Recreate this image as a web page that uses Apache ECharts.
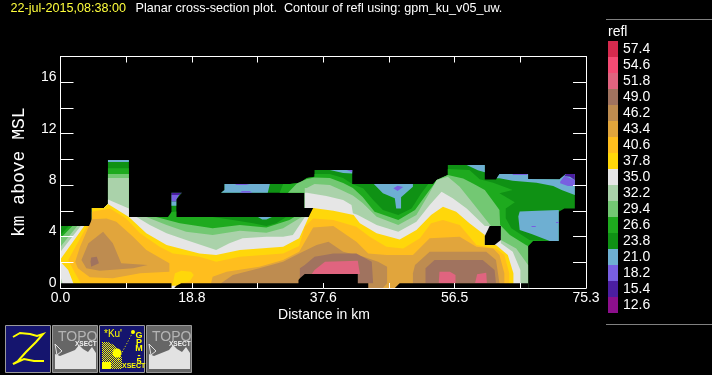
<!DOCTYPE html>
<html><head><meta charset="utf-8">
<style>html,body{margin:0;padding:0;background:#000}#c{width:712px;height:375px}</style>
<script src="https://cdn.jsdelivr.net/npm/echarts@6/dist/echarts.min.js"></script>
</head><body><div id="c"></div>
<script>
// Colour scale
const levels = [57.4,54.6,51.8,49.0,46.2,43.4,40.6,37.8,35.0,32.2,29.4,26.6,23.8,21.0,18.2,15.4,12.6];
const colors = ['#d62a4e','#f54b74','#e0647f','#a0735f','#be8c50','#e1a53c','#ffbe1e','#ffd70a','#e6e6e6','#aad2aa','#73c873','#1eaa1e','#0f9114','#6eafd2','#785fe1','#4b1ea0','#8c0f8c'];
const xTicks = ['0.0','','18.8','','37.6','','56.5','','75.3'];
const yTicks = ['0','','4','','8','','12','','16',''];

// Contour regions, [distance km, height km]
const outline = [[0,0.36],[0,4.82],[4.2,4.82],[4.5,5.03],[4.5,6.22],[6.2,6.22],[6.8,6.53],[6.8,9.95],[9.8,9.95],[9.8,5.52],[15.9,5.52],[15.9,7.41],[17.4,7.41],[16.6,6.89],[16.6,5.52],[36.4,5.52],[36.4,6.22],[35,6.22],[35,7.41],[23,7.41],[23.5,7.62],[23.5,8.08],[32.9,8.08],[34.3,8.18],[35.3,8.55],[36.4,8.65],[36.4,9.17],[41.8,9.17],[41.8,8.08],[53.4,8.08],[53.9,8.39],[55.5,8.78],[55.5,9.56],[60.8,9.56],[60.8,8.44],[62.4,8.44],[62.9,8.86],[67,8.86],[67,8.47],[71.5,8.45],[72.4,8.86],[73.7,8.86],[73.7,6.19],[72.2,6.19],[71.4,5.93],[71.4,3.66],[67.7,3.66],[67,3.27],[67,0.36],[48.6,0.36],[47.9,0],[44.1,0],[44.1,0.36],[17.3,0.36],[16.6,0.18],[16.3,0],[15.9,0],[15.9,0.36]];
const blueColumn = [[6.8,9.95],[9.8,9.95],[9.8,9.79],[6.8,9.79]];
const blueBandLeft = [[23,7.41],[23.5,7.62],[23.5,8.08],[30,8.08],[29.7,7.41]];
const blueSmall = [[28.3,5.52],[30.3,5.52],[29.5,5.33],[28.9,5.33]];
const blueNotch = [[15.9,6.73],[16.6,6.73],[16.6,6.4],[15.9,6.4]];
const blueMid = [[44.9,8.08],[46.2,7.36],[47.9,6.97],[48.1,6.19],[48.8,6.19],[48.8,7.05],[50.5,7.87],[50.5,8.08]];
const blueTop1 = [[38.6,9.17],[41.8,9.17],[41.8,8.9],[40.5,8.95]];
const blueTop2 = [[58.2,9.56],[60.8,9.56],[60.8,9],[59.8,9.15]];
const blueRight = [[62.5,8.53],[62.9,8.86],[67,8.86],[67,8.47],[71.5,8.45],[72.4,8.86],[73.7,8.86],[73.7,7.23],[71.8,7.62],[70.6,7.93],[68.2,8.19],[64.8,8.34],[62.9,8.53]];
const blueBlob = [[65.6,5.55],[65.8,5.94],[68.4,6.01],[71.4,6.07],[71.4,3.66],[70.1,3.66],[67.5,4.2],[65.8,4.51],[65.7,5.03]];
const purpleA = [[71.6,8.27],[72.2,8.7],[73.7,8.4],[73.7,7.93],[72.7,7.93],[71.6,8.14]];
const purpleB = [[64.8,8.86],[66.9,8.86],[66.9,8.78],[64.8,8.78]];
const purpleC = [[67.5,4.82],[68.1,4.82],[68.1,4.75],[67.5,4.75]];
const purpleD = [[71,5.13],[71.4,5.13],[71.4,5.06],[71,5.06]];
const purpleE = [[47.7,7.75],[48.3,7.95],[49.1,7.85],[48.3,7.55]];
const purpleF = [[25,8.08],[27.1,8.08],[26.6,8],[25.2,8]];
const purpleG = [[25.7,7.41],[27.5,7.41],[27.1,7.55],[26,7.55]];
const purpleH = [[15.9,7.23],[17,7.23],[16.6,6.89],[16.6,6.73],[15.9,6.73]];
const purpleI = [[41,9.17],[41.8,9.17],[41.8,9]];
const indigoA = [[15.9,7.41],[17.4,7.41],[17,7.23],[15.9,7.23]];
const indigoB = [[72.2,8.7],[72.4,8.86],[73.7,8.86],[73.7,8.4],[73,8.65]];
const band266 = [[0,4.12],[1.2,4.82],[4.2,4.82],[4.5,5.03],[4.5,6.22],[6.2,6.22],[6.8,6.53],[6.8,9.32],[9.8,9.32],[9.8,5.52],[15.4,5.52],[15.9,5.9],[16.6,5.95],[16.6,5.52],[21.8,5.52],[24.7,5.28],[27.6,5.03],[29.5,4.82],[30.9,5.03],[32.3,5.5],[33.3,5.52],[36.4,5.52],[36.4,6.22],[35,6.22],[35,7.41],[31.4,7.41],[31.9,8.08],[32.9,8.08],[34.3,8.18],[35.3,8.55],[36.4,8.65],[36.4,8.86],[38.6,8.86],[40.5,8.55],[41.8,8.08],[43.4,7.74],[44.8,6.84],[46.2,6.06],[48.4,5.67],[50.3,6.19],[51.7,7.36],[52.7,8.08],[53.4,8.08],[53.9,8.39],[55.5,8.78],[55.5,9.25],[58.6,9.17],[60.07,8.45],[62,8.19],[64.8,7.62],[62.9,7.36],[65.1,6.66],[63.8,6.19],[63.8,5.42],[64.6,4.64],[67.2,3.73],[70.1,3.66],[67.7,3.66],[67,3.27],[67,0],[0,0]];
const band294 = [[0,3.86],[1.7,4.82],[4.2,4.82],[4.5,5.03],[4.5,6.22],[6.2,6.22],[6.8,6.53],[6.8,8.86],[9.8,8.86],[9.8,5.52],[13.7,5.52],[17.1,5.03],[21.8,4.64],[25.7,4.9],[29.5,4.71],[32.8,5.28],[33.5,5.52],[36.4,5.52],[36.4,6.22],[35,6.22],[35,7.41],[32.6,7.41],[33.8,8.08],[34,8.16],[35.3,8.47],[36.4,8.6],[38.6,8.55],[40.5,8.16],[41.9,7.77],[43.3,7.07],[45,5.93],[48.4,5.28],[50.8,6.06],[52.7,7.49],[53.6,8.13],[53.9,8.39],[55.5,8.78],[57.7,8.52],[59.1,8.13],[60.8,7.62],[62.2,6.58],[62.9,6.07],[63,4.9],[64.4,4.12],[66.7,3.35],[67,3.27],[67,0],[0,0]];
const band322 = [[0,3.21],[2.4,4.82],[4.2,4.82],[4.5,5.03],[4.5,6.22],[6.2,6.22],[6.8,6.53],[6.8,8.55],[9.8,8.55],[9.8,5.52],[12.3,5.52],[15.2,4.9],[18,4.38],[21.8,4.12],[25.7,4.45],[29.5,4.3],[31.9,4.64],[34.2,5.41],[34.6,5.52],[36.4,5.52],[36.4,6.22],[35,6.22],[35,7.77],[35.3,7.77],[36.4,8.08],[38.6,8],[40.3,7.6],[41.9,7.2],[43.3,6.6],[45.3,5.54],[48.4,4.9],[51,5.67],[52.7,7.23],[53.9,8.39],[54.6,8.52],[55.5,8.65],[57.2,7.87],[59.1,6.58],[61,5.28],[61.7,4.82],[63,4.82],[63.1,3.73],[65.3,3.08],[67,1.79],[67,0],[0,0]];
const band350 = [[0,2.82],[2.9,4.82],[4.2,4.82],[4.5,5.03],[4.5,6.22],[6.2,6.22],[6.8,6.53],[6.8,6.89],[9.8,6.19],[9.8,5.52],[10.9,5.52],[12.8,4.9],[15.2,4.25],[18,3.73],[20.9,3.21],[22.3,2.95],[24.2,3.47],[26.1,3.86],[29.5,3.99],[31.9,3.99],[33.3,4.12],[35,5.5],[36.4,5.52],[36.4,6.22],[35,6.22],[35,7.41],[35.3,7.4],[38.1,7.15],[40.5,6.84],[41.7,6.45],[41.9,5.82],[42.6,5.67],[45.3,4.9],[48.4,4.38],[51,5.15],[52.9,6.45],[54.6,7.49],[56.2,6.97],[58.2,6.19],[60.8,4.82],[63,4.82],[63.1,3.47],[64.8,2.82],[65.9,1.4],[65.9,0],[0.5,0],[0,0.88]];
const band378 = [[0,2.23],[3.4,4.82],[4.2,4.82],[4.5,5.03],[4.5,6.22],[6.2,6.22],[6.8,6.53],[9.8,5.52],[12.3,4.25],[15.2,3.34],[19.9,2.69],[22.3,2.56],[25.7,2.95],[31.9,3.21],[34.2,3.86],[35.7,5.67],[36.2,6.22],[39.1,6.01],[42,5.67],[42.9,5.03],[45.3,4.25],[48.6,3.78],[51,4.51],[53.1,5.67],[54.8,6.32],[56.7,5.93],[58.6,5.03],[60.8,4.12],[60.8,3.34],[62.4,3.34],[64.1,2.56],[64.9,1.14],[64.9,0],[2.1,0],[1.1,1.4],[0,2.05]];
const band406 = [[1.1,2.18],[3.8,4.82],[4.2,4.82],[4.5,5.03],[4.5,5.93],[7.1,6.19],[9.4,5.41],[11.4,4.25],[14.2,3.21],[16.1,2.69],[19.9,2.43],[22.3,2.05],[25.7,2.43],[31.9,2.69],[34.2,3.26],[35,4.77],[36.2,5.41],[39.1,5.28],[42.4,4.77],[44.3,3.99],[46.7,3.21],[49.1,3.08],[51.5,3.86],[53.1,5.03],[54.8,5.28],[57.2,4.9],[59.6,3.34],[62.4,3.08],[63.6,2.56],[64.3,1.14],[64.3,0],[3.3,0],[2.1,1.14]];
const blob378 = [[16.1,0.36],[16.4,1.14],[17.3,1.35],[18.7,1.27],[19.1,1.01],[18.5,0.5],[17.3,0.36],[16.6,0.18],[15.9,0.18],[15.9,0.36]];
const tip350 = [[15.9,0.18],[16.6,0.18],[16.3,0],[15.9,0]];
const band434A = [[2.1,2.05],[2.8,3.21],[4.5,5.34],[6.6,5.41],[8,5.15],[10.4,3.99],[12.3,2.95],[15.6,1.92],[15.6,1.27],[11.4,1.14],[7.5,0.75],[4.2,0.83],[2.5,1.53]];
const band434B = [[21.4,0],[21.8,0.88],[23.8,1.27],[28.5,1.66],[31.9,2.18],[34.2,2.82],[36.2,4.71],[39.1,4.82],[42.4,3.6],[44.1,2.69],[46.7,2.56],[50.5,2.56],[52.9,3.86],[57.2,3.99],[59.6,3.21],[62,3.08],[62.9,2.56],[63.6,1.14],[63.6,0]];
const band462A = [[6.1,4.38],[7.5,3.47],[8.7,1.92],[12.5,1.79],[10.4,1.53],[5.6,1.35],[3.7,1.53],[3,2.18],[4,3.47]];
const band462B = [[23,0.36],[24.7,1.01],[28.5,1.53],[31.9,2.05],[34.2,2.69],[36.7,3.34],[38.4,3.6],[40.5,2.82],[43.4,2.43],[45.5,2.05],[46.8,1.66],[46.8,0.36],[46.2,0],[23,0]];
const band462C = [[50.5,0],[50.5,1.14],[50.8,1.79],[52.9,2.82],[61,2.82],[62.4,2.18],[62.9,0.36],[62.9,0]];
const band490A = [[4.4,2.38],[5.2,2.43],[5.5,1.92],[4.4,1.66],[4.3,2.05]];
const band490B = [[34.3,1.53],[35,1.79],[36.4,2.43],[39.1,2.69],[42.4,2.69],[44.6,2.05],[44.8,0.36],[34.3,0.36]];
const band490C = [[52.3,0.36],[52.3,1.53],[53.6,2.18],[60.5,2.18],[62.2,1.4],[62.4,0.36]];
const band518A = [[36.4,1.4],[37.9,2.05],[42.6,2.12],[42.9,1.09],[36,1.09]];
const band518B = [[54.2,0.36],[54.3,1.27],[55.8,1.27],[56.6,1.01],[56.6,0.36]];
const band518C = [[59.4,0.36],[59.7,1.06],[61,1.19],[61.1,0.36]];
// Areas without data
const emptyA = [[0,0],[0,0.36],[15.9,0.36],[15.9,0]];
const emptyB = [[16.3,0],[16.6,0.18],[17.3,0.36],[34.1,0.36],[34.1,0.62],[34.3,0.75],[35,1.09],[42.6,1.09],[42.6,0.36],[44.1,0.36],[44.1,0]];
const emptyC = [[47.9,0],[48.6,0.36],[67,0.36],[67,0]];
const emptyHole = [[60.8,4.05],[61.5,4.82],[63.1,4.82],[63.1,3.73],[62.2,3.35],[60.8,3.35]];

const layers = [
 [23.8,outline],[21.0,blueColumn],[21.0,blueBandLeft],[21.0,blueSmall],[21.0,blueNotch],[21.0,blueMid],[21.0,blueTop1],[21.0,blueTop2],[21.0,blueRight],[21.0,blueBlob],
 [18.2,purpleA],[18.2,purpleB],[18.2,purpleC],[18.2,purpleD],[18.2,purpleE],[18.2,purpleF],[18.2,purpleG],[18.2,purpleH],[18.2,purpleI],[15.4,indigoA],[15.4,indigoB],
 [26.6,band266],[29.4,band294],[32.2,band322],[35.0,band350],[37.8,band378],[40.6,band406],[37.8,blob378],[35.0,tip350],
 [43.4,band434A],[43.4,band434B],[46.2,band462A],[46.2,band462B],[46.2,band462C],[49.0,band490A],[49.0,band490B],[49.0,band490C],[51.8,band518A],[51.8,band518B],[51.8,band518C],
 [null,emptyA],[null,emptyB],[null,emptyC],[null,emptyHole]
];

function colorOf(v){ return v===null ? '#000' : colors[levels.indexOf(v)]; }
const FONT='"Liberation Sans"';
const chart = echarts.init(document.getElementById('c'),null,{renderer:'canvas'});

// Legend graphics
const legend = [];
legend.push({type:'line',shape:{x1:606,y1:19.5,x2:712,y2:19.5},style:{stroke:'#808080',lineWidth:1}});
legend.push({type:'line',shape:{x1:606,y1:324.5,x2:712,y2:324.5},style:{stroke:'#808080',lineWidth:1}});
legend.push({type:'text',x:608,y:32,style:{text:'refl',fill:'#fff',font:'14px '+FONT,textVerticalAlign:'middle'}});
levels.forEach((v,i)=>{
  legend.push({type:'rect',shape:{x:608,y:41+16*i,width:10,height:16},style:{fill:colors[i]}});
  legend.push({type:'text',x:623,y:49+16*i,style:{text:v.toFixed(1),fill:'#fff',font:'14px '+FONT,textVerticalAlign:'middle'}});
});
legend.push({type:'text',x:10.5,y:9,style:{text:'22-jul-2015,08:38:00',fill:'#ffff3c',font:'12.6px '+FONT,textVerticalAlign:'middle'}});
legend.push({type:'text',x:135.5,y:9,style:{text:'Planar cross-section plot.  Contour of refl using: gpm_ku_v05_uw.',fill:'#fff',font:'12.6px '+FONT,textVerticalAlign:'middle'}});
legend.push({type:'text',x:324,y:315,style:{text:'Distance in km',fill:'#fff',font:'14px '+FONT,textAlign:'center',textVerticalAlign:'middle'}});

// Button icons
const pat=document.createElement('canvas');pat.width=2;pat.height=2;
const pc=pat.getContext('2d');pc.fillStyle='#15156e';pc.fillRect(0,0,2,2);pc.fillStyle='#ffff00';pc.fillRect(0,0,1,1);pc.fillRect(1,1,1,1);
function btn(x,bg){legend.push({type:'rect',shape:{x:x+0.5,y:325.5,width:45,height:47},style:{fill:bg,stroke:'#9a9a9a',lineWidth:1}});}
btn(5,'#15156e');btn(52,'#666');btn(99,'#15156e');btn(146,'#666');
legend.push({type:'polyline',shape:{points:[[13,337],[20,333],[30,334],[37,336],[43,334],[36,342],[26,352],[18,361],[13,364],[24,359],[34,361],[44,361]]},style:{stroke:'#ffff00',lineWidth:2,fill:null}});
function topo(x){
  legend.push({type:'text',x:x+6,y:337,style:{text:'TOPO',fill:'#b4b4b4',font:'14px '+FONT,textVerticalAlign:'middle'}});
  legend.push({type:'text',x:x+23,y:344,style:{text:'XSECT',fill:'#f0f0f0',font:'bold 6.5px '+FONT,textVerticalAlign:'middle'}});
  legend.push({type:'polygon',shape:{points:[[x+3,354],[x+8,356],[x+13,354],[x+18,352],[x+23,350],[x+27,345],[x+31,349],[x+36,352],[x+40,347],[x+44,353],[x+44,369],[x+3,369]]},style:{fill:'#e2e2e2'}});
  legend.push({type:'polyline',shape:{points:[[x+3,344],[x+10,351],[x+5,355],[x+3,344]]},style:{stroke:'#e2e2e2',lineWidth:1,fill:null}});
}
topo(52);topo(146);
legend.push({type:'polygon',shape:{points:[[102,342],[108,342],[114,345],[119,351],[122,358],[122,369],[102,369]]},style:{fill:{image:pat,repeat:'repeat'}}});
legend.push({type:'rect',shape:{x:102,y:362,width:9,height:7},style:{fill:'#ffff00'}});
legend.push({type:'circle',shape:{cx:117,cy:353,r:4.5},style:{fill:'#ffff00'}});
legend.push({type:'line',shape:{x1:118,y1:360,x2:133,y2:332},style:{stroke:'#ffff00',lineWidth:1,lineDash:[1,2]}});
legend.push({type:'circle',shape:{cx:133,cy:332,r:2},style:{fill:'#ffff00'}});
legend.push({type:'text',x:104,y:334,style:{text:'*Ku\'',fill:'#ffff00',font:'10px '+FONT,textVerticalAlign:'middle'}});
legend.push({type:'text',x:122,y:366.5,style:{text:'XSECT',fill:'#ffff00',font:'bold 7px '+FONT,textVerticalAlign:'middle'}});
['G','P','M','-','5'].forEach((ch,i)=>legend.push({type:'text',x:139,y:336+6.5*i,style:{text:ch,fill:'#ffff00',font:'bold 9px '+FONT,textAlign:'center',textVerticalAlign:'middle'}}));

const axisBase = {min:0,z:10,axisLine:{show:true,onZero:false,lineStyle:{color:'#fff',width:1}},splitLine:{show:false},
  axisTick:{show:true,inside:true,lineStyle:{color:'#fff',width:1}}};
const labelX = {show:true,color:'#fff',fontFamily:FONT,fontSize:14,margin:3,showMaxLabel:true,showMinLabel:true,hideOverlap:false,formatter:(v,i)=>xTicks[i]};
const labelY = {show:true,color:'#fff',fontFamily:FONT,fontSize:14,margin:4,verticalAlign:'bottom',lineHeight:10,formatter:(v,i)=>yTicks[i]||''};
chart.setOption({
  animation:false,backgroundColor:'#000',
  grid:{left:60.5,top:56.5,width:525.5,height:231.5,containLabel:false},
  xAxis:[
   Object.assign({},axisBase,{type:'value',position:'bottom',max:75.3,interval:75.3/8,axisTick:Object.assign({},axisBase.axisTick,{length:5}),axisLabel:labelX}),
   Object.assign({},axisBase,{type:'value',position:'top',max:75.3,interval:75.3/8,axisTick:Object.assign({},axisBase.axisTick,{length:6}),axisLabel:{show:false}})
  ],
  yAxis:[
   Object.assign({},axisBase,{type:'value',position:'left',max:18,interval:2,axisTick:Object.assign({},axisBase.axisTick,{length:13}),axisLabel:labelY,
     name:'km above MSL',nameLocation:'middle',nameGap:32,nameRotate:90,nameTextStyle:{color:'#fff',fontFamily:'"Liberation Mono"',fontSize:18}}),
   Object.assign({},axisBase,{type:'value',position:'right',max:18,interval:2,axisTick:Object.assign({},axisBase.axisTick,{length:13}),axisLabel:{show:false}})
  ],
  graphic:{elements:legend},
  series:[{type:'custom',coordinateSystem:'cartesian2d',xAxisIndex:0,yAxisIndex:0,z:1,silent:true,clip:true,
    data:layers.map(l=>[l[1][0][0],l[1][0][1]]),
    renderItem:function(params,api){
      const l=layers[params.dataIndex];
      return {type:'polygon',shape:{points:l[1].map(p=>api.coord(p))},style:{fill:colorOf(l[0])}};
    }}]
});
</script></body></html>
